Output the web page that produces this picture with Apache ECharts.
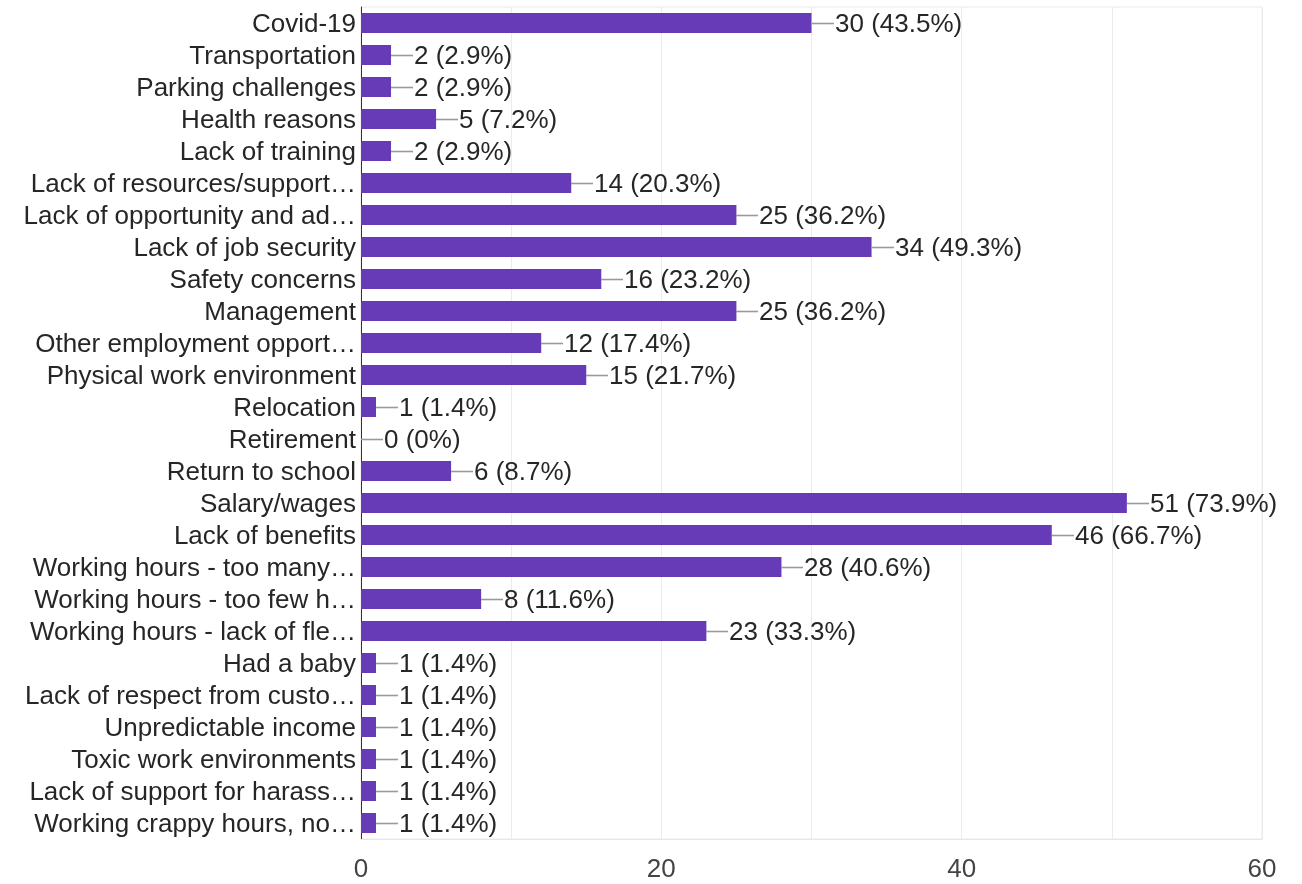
<!DOCTYPE html>
<html>
<head>
<meta charset="utf-8">
<title>Reasons for leaving</title>
<script src="https://cdn.jsdelivr.net/npm/echarts@6/dist/echarts.min.js"></script>
<style>
  html, body { margin: 0; padding: 0; background: #ffffff; }
  #chart { width: 1302px; height: 884px; }
</style>
</head>
<body>
<div id="chart"></div>
<script>
// Response categories, top to bottom
const categories = [
  'Covid-19',
  'Transportation',
  'Parking challenges',
  'Health reasons',
  'Lack of training',
  'Lack of resources/support…',
  'Lack of opportunity and ad…',
  'Lack of job security',
  'Safety concerns',
  'Management',
  'Other employment opport…',
  'Physical work environment',
  'Relocation',
  'Retirement',
  'Return to school',
  'Salary/wages',
  'Lack of benefits',
  'Working hours - too many…',
  'Working hours - too few h…',
  'Working hours - lack of fle…',
  'Had a baby',
  'Lack of respect from custo…',
  'Unpredictable income',
  'Toxic work environments',
  'Lack of support for harass…',
  'Working crappy hours, no…'
];

// Number of respondents per category
const counts = [30, 2, 2, 5, 2, 14, 25, 34, 16, 25, 12, 15, 1, 0, 6, 51, 46, 28, 8, 23, 1, 1, 1, 1, 1, 1];

// Share of respondents per category (%)
const percents = ['43.5', '2.9', '2.9', '7.2', '2.9', '20.3', '36.2', '49.3', '23.2', '36.2', '17.4', '21.7',
  '1.4', '0', '8.7', '73.9', '66.7', '40.6', '11.6', '33.3', '1.4', '1.4', '1.4', '1.4', '1.4', '1.4'];

// Value axis ticks that carry a label
const xTickLabels = [0, 20, 40, 60];

const FONT = '"Liberation Sans", Arial, sans-serif';
const BAR_COLOR = '#673ab7';

const chart = echarts.init(document.getElementById('chart'), null, { renderer: 'canvas' });

const labelData = counts.map((v, i) => [v, i, percents[i]]);

chart.setOption({
  animation: false,
  backgroundColor: '#ffffff',
  grid: {
    left: 361, right: 40, top: 7, bottom: 45,
    show: true, borderColor: '#ebebeb', borderWidth: 1
  },
  xAxis: {
    type: 'value',
    min: 0, max: 60, interval: 10,
    axisLine: { show: true, lineStyle: { color: '#e6e6e6', width: 1 } },
    axisTick: { show: false },
    splitLine: { show: true, lineStyle: { color: '#ebebeb', width: 1 } },
    axisLabel: {
      margin: 18,
      color: '#444444',
      fontSize: 26,
      fontFamily: FONT,
      formatter: v => (xTickLabels.includes(v) ? String(v) : '')
    }
  },
  yAxis: {
    type: 'category',
    inverse: true,
    data: categories,
    axisLine: { show: true, lineStyle: { color: '#333333', width: 1 } },
    axisTick: { show: false },
    splitLine: { show: false },
    axisLabel: {
      margin: 5,
      interval: 0,
      formatter: v => '{c|' + v + '}',
      rich: {
        c: {
          color: '#262626',
          fontSize: 26,
          fontFamily: FONT,
          padding: [3, 0, 0, 0]
        }
      }
    }
  },
  series: [
    {
      type: 'bar',
      data: counts,
      barWidth: 20,
      itemStyle: { color: BAR_COLOR },
      z: 2
    },
    {
      // leader line plus "count (pct%)" text at the end of each bar
      type: 'custom',
      data: labelData,
      z: 3,
      renderItem: (params, api) => {
        const pt = api.coord([api.value(0), api.value(1)]);
        const x = Math.round(pt[0]);
        const y = Math.round(pt[1]) + 0.5;
        const pct = labelData[params.dataIndex][2];
        return {
          type: 'group',
          children: [
            {
              type: 'line',
              shape: { x1: x, y1: y, x2: x + 22, y2: y },
              style: { stroke: '#999999', lineWidth: 1.6 }
            },
            {
              type: 'text',
              x: x + 23,
              y: y + 1.5,
              style: {
                text: api.value(0) + ' (' + pct + '%)',
                fill: '#262626',
                font: '26px ' + FONT,
                verticalAlign: 'middle',
                align: 'left'
              }
            }
          ]
        };
      }
    }
  ]
});
</script>
</body>
</html>
